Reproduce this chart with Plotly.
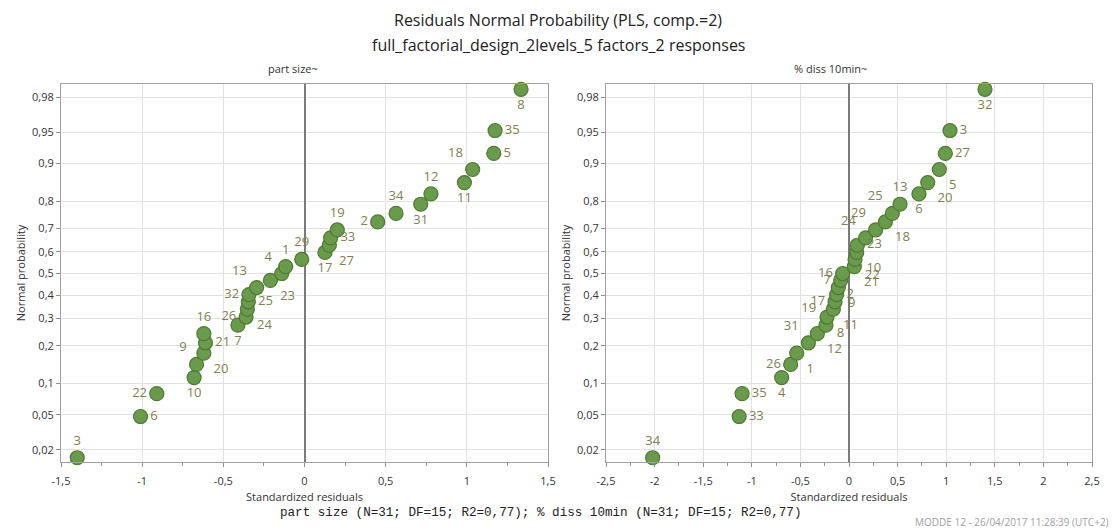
import plotly.graph_objects as go
from statistics import NormalDist

# ---------------- data ----------------
# normal probability (plotting position) for each rank
probabilities = [0.016, 0.048, 0.081, 0.113, 0.145, 0.177, 0.210, 0.242, 0.274, 0.306,
                 0.339, 0.371, 0.403, 0.435, 0.468, 0.500, 0.532, 0.565, 0.597, 0.629,
                 0.661, 0.694, 0.726, 0.758, 0.790, 0.823, 0.855, 0.887, 0.919, 0.952, 0.984]

# part size~
left_residuals = [-1.40, -1.01, -0.91, -0.68, -0.665, -0.62, -0.61, -0.62, -0.41, -0.36,
                  -0.352, -0.346, -0.342, -0.295, -0.21, -0.14, -0.116, -0.017, 0.126, 0.153,
                  0.161, 0.202, 0.451, 0.564, 0.716, 0.779, 0.985, 1.036, 1.166, 1.174, 1.334]
left_labels = ["3", "6", "22", "10", "9", "20", "21", "16", "7", "26", "24", "25", "32", "13",
               "23", "4", "1", "29", "17", "27", "33", "19", "2", "34", "31", "12", "11", "18",
               "5", "35", "8"]
left_textpos = ["top center", "middle right", "middle left", "bottom center", "top left",
                "bottom right", "middle right", "top center", "bottom center", "middle left",
                "bottom right", "middle right", "middle left", "top left", "bottom right",
                "top left", "top center", "top center", "bottom center", "bottom right",
                "middle right", "top center", "middle left", "top center", "bottom center",
                "top center", "bottom center", "top left", "middle right", "middle right",
                "bottom center"]

# % diss 10min~
right_residuals = [-2.02, -1.13, -1.10, -0.693, -0.60, -0.538, -0.418, -0.326, -0.237, -0.226,
                   -0.161, -0.144, -0.127, -0.110, -0.086, -0.065, 0.055, 0.062, 0.079, 0.086,
                   0.171, 0.274, 0.374, 0.446, 0.525, 0.72, 0.81, 0.929, 0.991, 1.039, 1.399]
right_labels = ["34", "33", "35", "4", "26", "1", "31", "12", "19", "8", "11", "17", "2", "9",
                "7", "16", "21", "22", "10", "23", "24", "29", "18", "25", "13", "6", "20", "5",
                "27", "3", "32"]
right_textpos = ["top center", "middle right", "middle right", "bottom center", "middle left",
                 "bottom right", "top left", "bottom right", "top left", "bottom right",
                 "bottom right", "middle left", "middle right", "bottom right", "middle left",
                 "middle left", "bottom right", "bottom right", "bottom right", "middle right",
                 "top left", "top left", "bottom right", "top left", "top center",
                 "bottom center", "bottom right", "bottom right", "middle right", "middle right",
                 "bottom center"]

prob_ticks = [0.02, 0.05, 0.1, 0.2, 0.3, 0.4, 0.5, 0.6, 0.7, 0.8, 0.9, 0.95, 0.98]
prob_ticktext = ["0,02", "0,05", "0,1", "0,2", "0,3", "0,4", "0,5", "0,6", "0,7", "0,8",
                 "0,9", "0,95", "0,98"]

left_xticks = [-1.5, -1, -0.5, 0, 0.5, 1, 1.5]
left_xticktext = ["-1,5", "-1", "-0,5", "0", "0,5", "1", "1,5"]
right_xticks = [-2.5, -2, -1.5, -1, -0.5, 0, 0.5, 1, 1.5, 2, 2.5]
right_xticktext = ["-2,5", "-2", "-1,5", "-1", "-0,5", "0", "0,5", "1", "1,5", "2", "2,5"]

# ---------------- helpers ----------------
nd = NormalDist()
probit = nd.inv_cdf
y_vals = [probit(p) for p in probabilities]
y_tickvals = [probit(p) for p in prob_ticks]

FONT = "Open Sans"
MARKER = dict(size=14, color="#6a9a4b", line=dict(color="#4d7a33", width=1.2))
LABEL_FONT = dict(family=FONT, size=13, color="#808050")

fig = go.Figure()
fig.add_trace(go.Scatter(x=left_residuals, y=y_vals, mode="markers+text",
                         text=left_labels, textposition=left_textpos, textfont=LABEL_FONT,
                         marker=MARKER, xaxis="x", yaxis="y", hoverinfo="skip",
                         showlegend=False, cliponaxis=False))
fig.add_trace(go.Scatter(x=right_residuals, y=y_vals, mode="markers+text",
                         text=right_labels, textposition=right_textpos, textfont=LABEL_FONT,
                         marker=MARKER, xaxis="x2", yaxis="y2", hoverinfo="skip",
                         showlegend=False, cliponaxis=False))

W, H = 1116, 530
def px_x(p):
    return p / W
def px_y(p):
    return 1 - p / H

yrange = [-2.194, 2.206]
common_axis = dict(showgrid=True, gridcolor="#e2e2e2", gridwidth=1,
                   showline=True, linecolor="#a0a0a0", linewidth=1, mirror=True,
                   ticks="outside", ticklen=4, tickcolor="#909090",
                   tickfont=dict(family=FONT, size=11, color="#333333"),
                   zeroline=False, automargin=False)

xaxis_common = dict(common_axis,
                    zeroline=True, zerolinecolor="#7a7a7a", zerolinewidth=1.5,
                    ticklabelstandoff=5,
                    minor=dict(ticks="outside", ticklen=3, tickcolor="#909090",
                               dtick=0.25, showgrid=False),
                    title=dict(text="Standardized residuals",
                               font=dict(family=FONT, size=11, color="#333333"),
                               standoff=6))
yaxis_common = dict(common_axis, range=yrange, tickvals=y_tickvals, ticktext=prob_ticktext,
                    title=dict(text="Normal probability",
                               font=dict(family=FONT, size=11, color="#333333"),
                               standoff=4))

fig.update_layout(
    width=W, height=H,
    margin=dict(l=0, r=0, t=0, b=0, autoexpand=False),
    paper_bgcolor="white", plot_bgcolor="white",
    xaxis=dict(xaxis_common, domain=[px_x(61), px_x(548)], range=[-1.5, 1.5],
               tickvals=left_xticks, ticktext=left_xticktext, anchor="y"),
    yaxis=dict(yaxis_common, domain=[px_y(462), px_y(84)], anchor="x"),
    xaxis2=dict(xaxis_common, domain=[px_x(606), px_x(1092)], range=[-2.5, 2.5],
                tickvals=right_xticks, ticktext=right_xticktext, anchor="y2"),
    yaxis2=dict(yaxis_common, domain=[px_y(462), px_y(84)], anchor="x2"),
    annotations=[
        dict(text="Residuals Normal Probability (PLS, comp.=2)", xref="paper", yref="paper",
             x=0.5, y=px_y(20), showarrow=False, xanchor="center", yanchor="middle",
             font=dict(family=FONT, size=16, color="#222222")),
        dict(text="full_factorial_design_2levels_5 factors_2 responses", xref="paper",
             yref="paper", x=0.5, y=px_y(45), showarrow=False, xanchor="center",
             yanchor="middle", font=dict(family=FONT, size=16, color="#222222")),
        dict(text="part size~", xref="paper", yref="paper", x=px_x(293), y=px_y(69),
             showarrow=False, xanchor="center", yanchor="middle",
             font=dict(family=FONT, size=11, color="#333333")),
        dict(text="% diss 10min~", xref="paper", yref="paper", x=px_x(830), y=px_y(69),
             showarrow=False, xanchor="center", yanchor="middle",
             font=dict(family=FONT, size=11, color="#333333")),
        dict(text="part size (N=31; DF=15; R2=0,77); % diss 10min (N=31; DF=15; R2=0,77)",
             xref="paper", yref="paper", x=px_x(540), y=px_y(513), showarrow=False,
             xanchor="center", yanchor="middle",
             font=dict(family="Liberation Mono", size=12.6, color="#222222")),
        dict(text="MODDE 12 - 26/04/2017 11:28:39 (UTC+2)", xref="paper", yref="paper",
             x=px_x(1111), y=px_y(522), showarrow=False, xanchor="right", yanchor="middle",
             font=dict(family=FONT, size=10, color="#a0a0a0")),
    ],
)

fig.write_html("out.html", config={"displayModeBar": False},
               post_script="document.body.style.margin='0';document.body.style.overflow='hidden';")
